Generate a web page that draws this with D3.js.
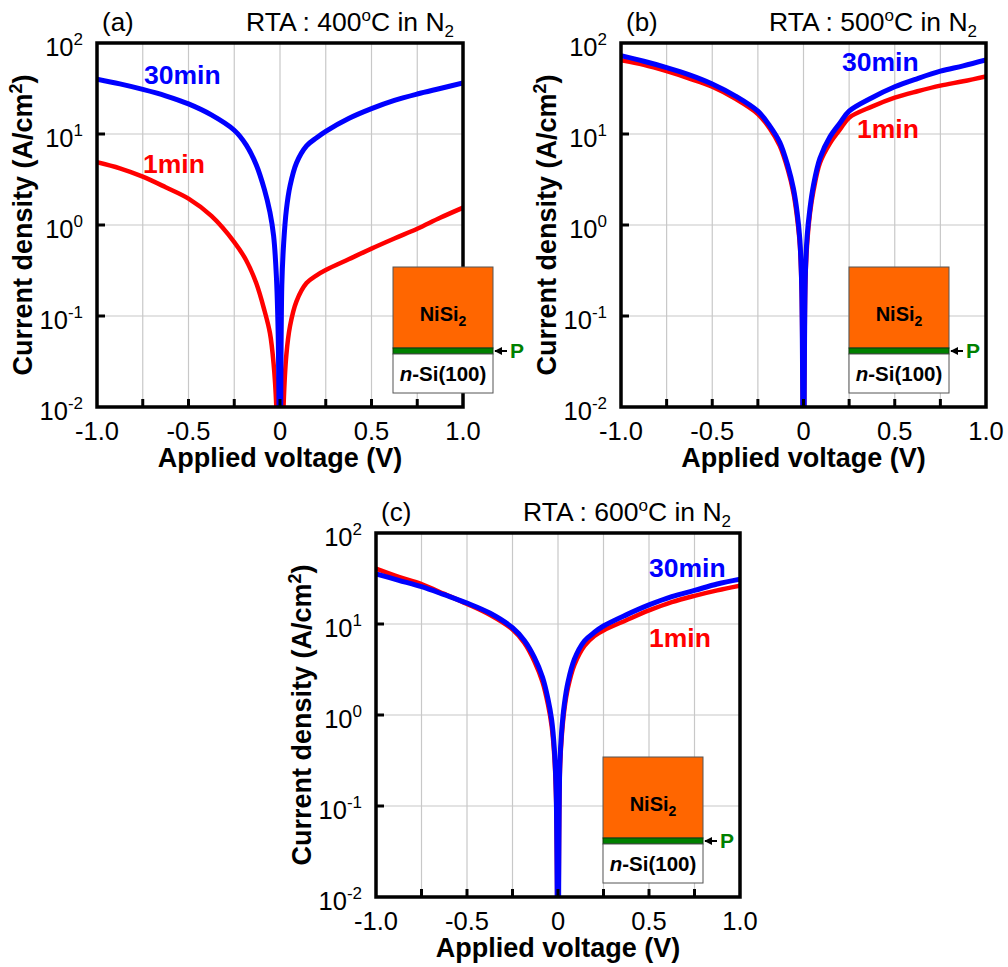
<!DOCTYPE html>
<html><head><meta charset="utf-8">
<script src="https://cdn.jsdelivr.net/npm/d3@7"></script>
<style>
body{margin:0;background:#fff}
svg{display:block}
text{font-family:"Liberation Sans",Arial,sans-serif}
</style>
</head><body>
<svg id="chart" width="1008" height="967"></svg>
<script>
// ---------- data ----------
const voltage = [-1.0,-0.875,-0.75,-0.625,-0.5,-0.375,-0.25,-0.185,-0.13,-0.085,-0.055,-0.035,-0.02,-0.01,0,
                 0.01,0.02,0.035,0.055,0.09,0.145,0.2,0.25,0.375,0.5,0.625,0.75,0.875,1.0];
// (a) RTA 400C
const a_1min  = [4.9,4.2,3.4,2.6,1.95,1.26,0.65,0.41,0.23,0.115,0.065,0.030,0.010,0.001,0.001,
                 0.001,0.011,0.038,0.078,0.145,0.23,0.28,0.32,0.42,0.55,0.71,0.91,1.2,1.55];
const a_30min = [40,35.5,30.9,26.3,21.4,16.2,11,7.6,4.6,2.45,1.38,0.76,0.28,0.063,0.001,
                 0.22,0.63,1.48,2.7,4.8,7.4,9.1,10.7,14.8,19,23.4,27.5,31.6,36.3];
// (b) RTA 500C
const b_1min  = [64.6,57.5,49,40.7,33.1,24.5,16.6,11.5,7.4,4.0,2.24,1.2,0.6,0.18,0.001,
                 0.22,0.63,1.32,2.4,4.8,7.9,11.2,15.1,20,25.1,29.5,34,38,43];
const b_30min = [72.4,63,53.7,44.7,35.5,26.3,17.8,12.3,8.1,4.4,2.5,1.38,0.69,0.22,0.001,
                 0.28,0.76,1.5,2.75,5.4,9.3,13.2,17.8,25,33,40.7,49,56,65];
// (c) RTA 600C
const c_1min  = [40.7,33,27.5,21.4,16.6,12.6,8.7,6.2,3.9,2.3,1.3,0.76,0.35,0.11,0.001,
                 0.22,0.56,1.15,2.0,3.55,5.75,7.4,8.5,11,14.1,17.4,20.4,23.4,26.3];
const c_30min = [35.5,30.2,25.7,21,17,13.2,9.1,6.6,4.3,2.6,1.5,0.89,0.42,0.14,0.001,
                 0.28,0.66,1.32,2.3,4.1,6.5,8.1,9.5,12.6,16.2,20,23.4,27.5,31];

const xTickValues = [-1,-0.5,0,0.5,1];
const xTickLabels = ["-1.0","-0.5","0","0.5","1.0"];
const xGridValues = [-0.75,-0.5,-0.25,0,0.25,0.5,0.75];
const xMinorTicks = [-0.75,-0.5,-0.25,0,0.25,0.5,0.75];
const yTickValues = [0.01,0.1,1,10,100];
const yTickExponents = ["-2","-1","0","1","2"];
const panelLetters = ["(a)","(b)","(c)"];
const temperatures = ["400","500","600"];
const seriesNames = ["1min","30min"];
const seriesColors = ["#ff0000","#0000ff"];

// ---------- layout ----------
const panels = [
  {left:97, right:463, top:43, bottom:407, d1:a_1min, d30:a_30min,
   lab30:[144,84], lab1:[143,173], insetDx:296},
  {left:621, right:986, top:43, bottom:407, d1:b_1min, d30:b_30min,
   lab30:[842,71], lab1:[857,138], insetDx:228},
  {left:376, right:740, top:533, bottom:897, d1:c_1min, d30:c_30min,
   lab30:[649,577], lab1:[649,647], insetDx:227}
];

const svg = d3.select("#chart");
const defs = svg.append("defs");
defs.append("marker").attr("id","arr").attr("viewBox","0 0 10 10").attr("refX",9).attr("refY",5)
  .attr("markerWidth",4).attr("markerHeight",4).attr("orient","auto")
  .append("path").attr("d","M0,0L10,5L0,10z").attr("fill","#000");

panels.forEach((p,i)=>{
  const x = d3.scaleLinear().domain([-1,1]).range([p.left,p.right]);
  const y = d3.scaleLog().domain([0.01,100]).range([p.bottom,p.top]);
  const g = svg.append("g");

  // grid
  g.selectAll(".gx").data(xGridValues).join("line")
    .attr("x1",d=>x(d)).attr("x2",d=>x(d)).attr("y1",p.top).attr("y2",p.bottom)
    .attr("stroke","#c8c8c8").attr("stroke-width",1.2);
  g.selectAll(".gy").data(yTickValues.slice(1,4)).join("line")
    .attr("x1",p.left).attr("x2",p.right).attr("y1",d=>y(d)).attr("y2",d=>y(d))
    .attr("stroke","#c8c8c8").attr("stroke-width",1.2);

  // clip
  const cid = "clip"+i;
  defs.append("clipPath").attr("id",cid).append("rect")
    .attr("x",p.left).attr("y",p.top).attr("width",p.right-p.left).attr("height",p.bottom-p.top);

  const line = d3.line().x(d=>x(d[0])).y(d=>y(d[1])).curve(d3.curveCatmullRom.alpha(0.5));
  const cg = g.append("g").attr("clip-path",`url(#${cid})`);
  cg.append("path").datum(voltage.map((v,k)=>[v,p.d1[k]]))
    .attr("d",line).attr("fill","none").attr("stroke",seriesColors[0]).attr("stroke-width",4.5)
    .attr("stroke-linejoin","round");
  cg.append("path").datum(voltage.map((v,k)=>[v,p.d30[k]]))
    .attr("d",line).attr("fill","none").attr("stroke",seriesColors[1]).attr("stroke-width",5)
    .attr("stroke-linejoin","round");

  // frame
  g.append("rect").attr("x",p.left).attr("y",p.top).attr("width",p.right-p.left).attr("height",p.bottom-p.top)
    .attr("fill","none").attr("stroke","#000").attr("stroke-width",3.5);
  // ticks (inward)
  g.selectAll(".tx").data(xMinorTicks).join("line")
    .attr("x1",d=>x(d)).attr("x2",d=>x(d)).attr("y1",p.bottom).attr("y2",p.bottom-8)
    .attr("stroke","#000").attr("stroke-width",3);
  g.selectAll(".ty").data(yTickValues.slice(1,4)).join("line")
    .attr("x1",p.left).attr("x2",p.left+8).attr("y1",d=>y(d)).attr("y2",d=>y(d))
    .attr("stroke","#000").attr("stroke-width",3);

  // x tick labels
  g.selectAll(".xl").data(xTickValues).join("text")
    .attr("x",d=>x(d)).attr("y",p.bottom+33).attr("text-anchor","middle")
    .attr("font-size",25.5).text((d,k)=>xTickLabels[k]);
  // y tick labels
  yTickValues.forEach((v,k)=>{
    const t = g.append("text").attr("x",p.left-14).attr("y",y(v)+13).attr("text-anchor","end").attr("font-size",25.5);
    t.append("tspan").text("10");
    t.append("tspan").attr("font-size",17).attr("dy",-11).text(yTickExponents[k]);
  });

  // axis titles
  g.append("text").attr("x",(p.left+p.right)/2).attr("y",p.bottom+60).attr("text-anchor","middle")
    .attr("font-size",27).attr("font-weight","bold").text("Applied voltage (V)");
  const yt = g.append("text").attr("transform",`translate(${p.left-65},${(p.top+p.bottom)/2}) rotate(-90)`)
    .attr("text-anchor","middle").attr("font-size",27).attr("font-weight","bold");
  yt.append("tspan").text("Current density (A/cm");
  yt.append("tspan").attr("font-size",18).attr("dy",-10).text("2");
  yt.append("tspan").attr("dy",10).text(")");

  // panel titles
  g.append("text").attr("x",p.left+5).attr("y",p.top-12).attr("font-size",26).text(panelLetters[i]);
  const tt = g.append("text").attr("x",p.right-9).attr("y",p.top-12).attr("text-anchor","end").attr("font-size",26.5);
  tt.append("tspan").text("RTA : "+temperatures[i]);
  tt.append("tspan").attr("font-size",17).attr("dy",-10).text("o");
  tt.append("tspan").attr("dy",10).text("C in N");
  tt.append("tspan").attr("font-size",17).attr("dy",6).text("2");

  // series labels
  g.append("text").attr("x",p.lab30[0]).attr("y",p.lab30[1]).attr("font-size",26.5).attr("font-weight","bold")
    .attr("fill",seriesColors[1]).text(seriesNames[1]);
  g.append("text").attr("x",p.lab1[0]).attr("y",p.lab1[1]).attr("font-size",26.5).attr("font-weight","bold")
    .attr("fill",seriesColors[0]).text(seriesNames[0]);

  // inset schematic
  const ix = p.left+p.insetDx, iy = p.top+224, iw = 100;
  const ins = svg.append("g");
  ins.append("rect").attr("x",ix).attr("y",iy).attr("width",iw).attr("height",81)
    .attr("fill","#ff6600").attr("stroke","#555").attr("stroke-width",1);
  ins.append("rect").attr("x",ix).attr("y",iy+81).attr("width",iw).attr("height",6)
    .attr("fill","#008000").attr("stroke","#0a3a0a").attr("stroke-width",1);
  ins.append("rect").attr("x",ix).attr("y",iy+87).attr("width",iw).attr("height",39)
    .attr("fill","#fff").attr("stroke","#555").attr("stroke-width",1);
  const nt = ins.append("text").attr("x",ix+iw/2).attr("y",iy+54).attr("text-anchor","middle")
    .attr("font-size",20).attr("font-weight","bold");
  nt.append("tspan").text("NiSi");
  nt.append("tspan").attr("font-size",14).attr("dy",5).text("2");
  const st = ins.append("text").attr("x",ix+iw/2).attr("y",iy+114).attr("text-anchor","middle")
    .attr("font-size",20.5).attr("font-weight","bold");
  st.append("tspan").attr("font-style","italic").text("n");
  st.append("tspan").text("-Si(100)");
  ins.append("line").attr("x1",ix+iw+14).attr("x2",ix+iw+2).attr("y1",iy+84).attr("y2",iy+84)
    .attr("stroke","#000").attr("stroke-width",2).attr("marker-end","url(#arr)");
  ins.append("text").attr("x",ix+iw+17).attr("y",iy+91).attr("font-size",21).attr("font-weight","bold")
    .attr("fill","#008000").text("P");
});
</script>
</body></html>
